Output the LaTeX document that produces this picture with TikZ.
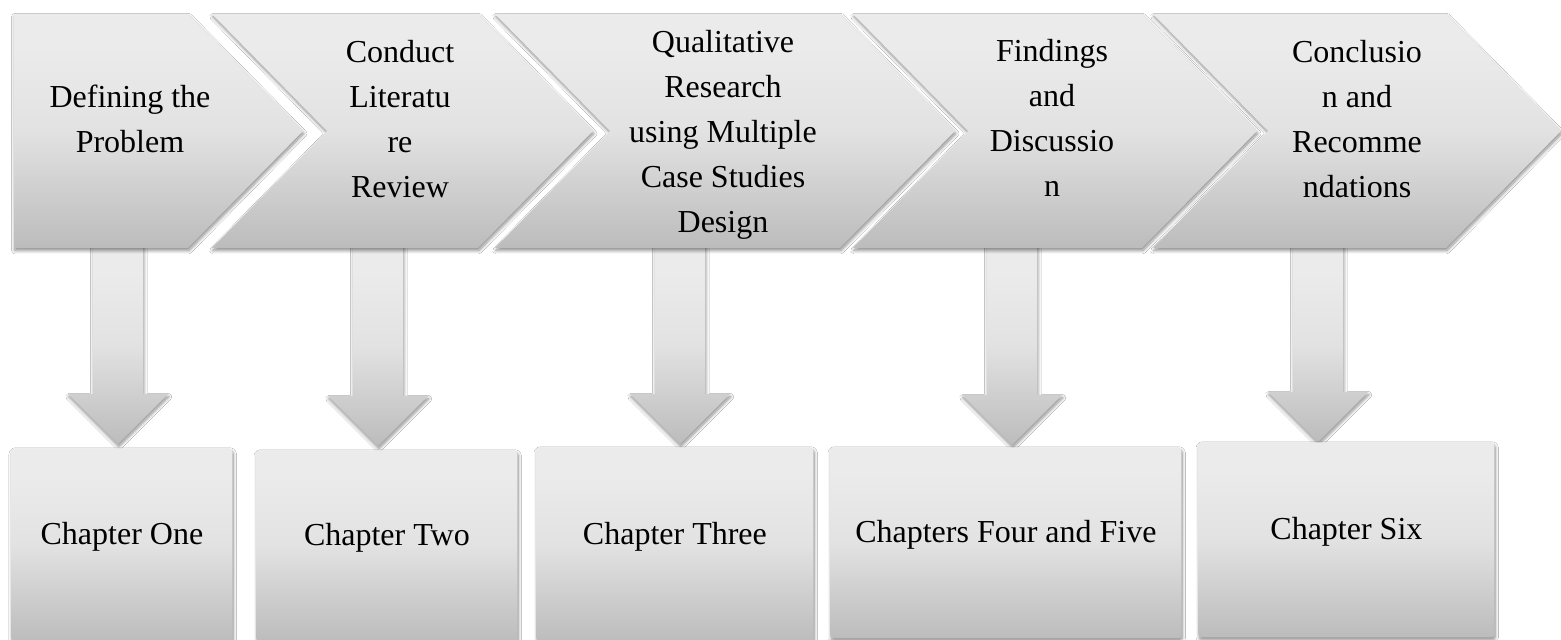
\documentclass[tikz,border=0pt]{standalone}
\usepackage{fontspec}
\setmainfont{Liberation Serif}
\usetikzlibrary{calc,shadows.blur}

% grey gradient used on every shape: light at the top, darker towards the bottom
\definecolor{shadeTop}{RGB}{235,235,235}
\definecolor{shadeMid}{RGB}{226,226,226}
\definecolor{shadeBot}{RGB}{188,188,188}
\pgfdeclareverticalshading{panelshade}{100bp}{%
  color(0bp)=(shadeBot); color(25bp)=(shadeBot); color(50bp)=(shadeMid);
  color(68bp)=(shadeTop); color(75bp)=(shadeTop); color(100bp)=(shadeTop)}

\tikzset{
  x=0.5pt, y=-0.5pt,
  softshadow/.style={blur shadow={shadow xshift=0.4pt, shadow yshift=-1.3pt,
      shadow blur radius=1.6pt, shadow blur steps=8, shadow opacity=45}},
  panel/.style={shading=panelshade, softshadow},
  steptext/.style={inner sep=0pt, anchor=base, text=black,
      font=\fontsize{16}{22.5}\selectfont},
  chapbox/.style={panel, rounded corners=1.5pt, anchor=north west, inner sep=0pt,
      text height=8pt, text depth=8pt, text=black,
      font=\fontsize{16}{22.5}\selectfont},
  arrowfill/.style={panel},
}

% block arrow pointing down: #1 top of shaft, #2 tip
\newcommand\dropArrow[2]{%
  \path[arrowfill] ($(#1)+(-25,0)$) -- ($(#2)+(-25,-50)$) -- ($(#2)+(-50,-50)$)
    -- (#2) -- ($(#2)+(50,-50)$) -- ($(#2)+(25,-50)$) -- ($(#1)+(25,0)$) -- cycle;}

% chevron with notch: #1 left x, #2 top-right x (point depth 115)
\newcommand\chevronShape[2]{%
  \path[panel] (#1,14) -- (#2,14) -- ({#2+115},131) -- (#2,248) -- (#1,248)
    -- ({#1+115},131) -- cycle;}

\begin{document}
\begin{tikzpicture}
\useasboundingbox (0,0) rectangle (1561,640);
\fill[white] (0,0) rectangle (1561,640);

% arrows from each step down to its chapter
\coordinate (a1) at (118,246);  \coordinate (t1) at (118,444);
\coordinate (a2) at (378,246);  \coordinate (t2) at (378,446);
\coordinate (a3) at (680,246);  \coordinate (t3) at (680,444);
\coordinate (a4) at (1012,246); \coordinate (t4) at (1012,445);
\coordinate (a5) at (1318,246); \coordinate (t5) at (1318,442);
\dropArrow{a1}{t1}
\dropArrow{a2}{t2}
\dropArrow{a3}{t3}
\dropArrow{a4}{t4}
\dropArrow{a5}{t5}

% process steps
\path[panel] (14,14) -- (188,14) -- (303,131) -- (188,248) -- (14,248) -- cycle;
\chevronShape{212}{478}
\chevronShape{495}{840}
\chevronShape{853}{1142}
\chevronShape{1153}{1446}

\node[steptext] (s1) at (130,108) {\begin{tabular}[t]{@{}c@{}}Defining the\\Problem\end{tabular}};
\node[steptext] (s2) at (400,63) {\begin{tabular}[t]{@{}c@{}}Conduct\\Literatu\\re\\Review\end{tabular}};
\node[steptext] (s3) at (723,53) {\begin{tabular}[t]{@{}c@{}}Qualitative\\Research\\using Multiple\\Case Studies\\Design\end{tabular}};
\node[steptext] (s4) at (1052,62) {\begin{tabular}[t]{@{}c@{}}Findings\\and\\Discussio\\n\end{tabular}};
\node[steptext] (s5) at (1357,63) {\begin{tabular}[t]{@{}c@{}}Conclusio\\n and\\Recomme\\ndations\end{tabular}};

% chapters
\node[chapbox, minimum width=110.5pt, minimum height=96.5pt] (b1) at (11,448) {Chapter One};
\node[chapbox, minimum width=130.5pt, minimum height=95.5pt] (b2) at (256,450) {Chapter Two};
\node[chapbox, minimum width=138.5pt, minimum height=97pt] (b3) at (536,447) {Chapter Three};
\node[chapbox, minimum width=175.5pt, minimum height=95.5pt] (b4) at (830,447) {Chapters Four and Five};
\node[chapbox, minimum width=148pt, minimum height=97.5pt] (b5) at (1198,442) {Chapter Six};
\end{tikzpicture}
\end{document}
